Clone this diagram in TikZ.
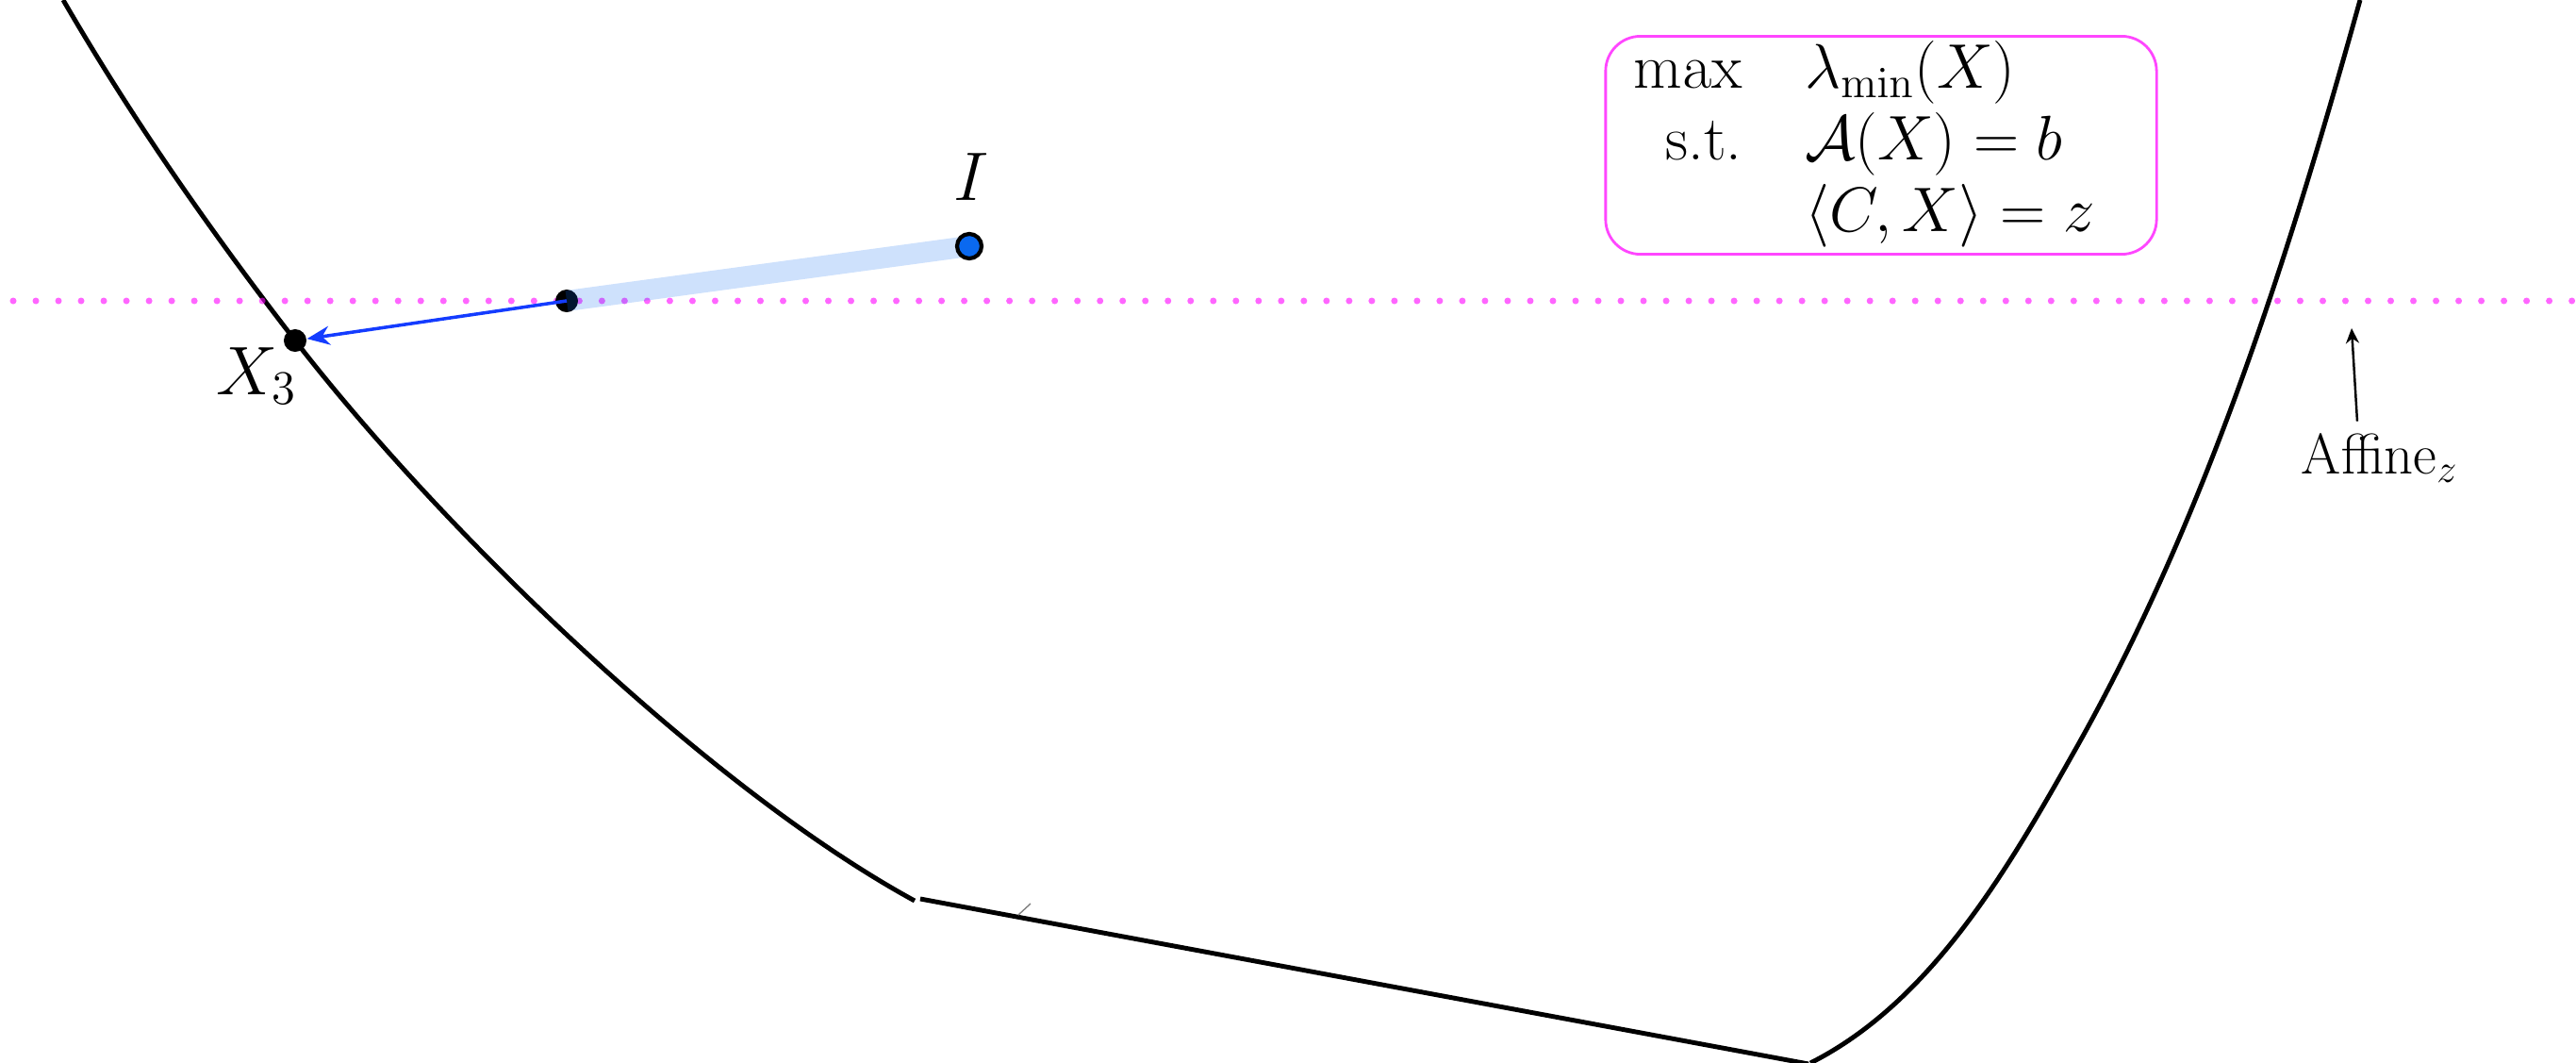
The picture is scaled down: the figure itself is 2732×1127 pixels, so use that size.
\RequirePackage{fix-cm}
\documentclass[tikz,border=0pt]{standalone}
\usepackage{amsmath, amssymb}
\usetikzlibrary{arrows.meta}
\definecolor{ptblue}{RGB}{10,105,240}
\definecolor{stepblue}{RGB}{20,60,255}
\definecolor{boxpink}{RGB}{255,70,255}
\definecolor{slicepink}{RGB}{255,0,255}

\begin{document}
\begin{tikzpicture}[x=0.01cm, y=-0.01cm, font=\fontsize{19}{21.6}\selectfont,
    boundary/.style={line width=1.4pt, line join=round},
    slice/.style={slicepink, opacity=0.6, line width=0.07cm, line cap=round, dash pattern=on 0pt off 0.24cm},
    band/.style={ptblue, opacity=0.2, line width=0.22cm},
    blackdot/.style={circle, fill=black, minimum size=0.24cm, inner sep=0pt},
    centerdot/.style={circle, draw=black, line width=1.2pt, fill=ptblue, minimum size=0.26cm, inner sep=0pt},
    biglabel/.style={font=\fontsize{20.74}{25}\selectfont, anchor=base},
    probbox/.style={draw=boxpink, line width=0.8pt, rounded corners=0.37cm, text width=5.24cm,
        inner xsep=0.3cm, inner ysep=0pt, minimum height=2.31cm, align=left}]

        \useasboundingbox (0,0) rectangle (2732,1127);

        % ---------------- boundary of the region ----------------
        \draw[boundary] (67,0) .. controls (140,126) and (224,246) .. (313,361)
            .. controls (466,559) and (750,835) .. (970,955);
        \draw[boundary] (976,953) -- (1918,1128);
        \draw[boundary] (1920,1127) .. controls (2047,1063) and (2128,924) .. (2198,800)
            .. controls (2338,554) and (2427,273) .. (2503,0);
        \draw[gray, line width=0.4pt] (1080,970) -- (1093,958);

        % ---------------- affine slice ----------------
        \draw[slice] (14,319) -- (2740,319);

        % ---------------- iterates ----------------
        \coordinate (pI) at (1028,261);
        \coordinate (pM) at (601,319);
        \node[blackdot] (mid) at (pM) {};
        \draw[band] (pM) -- (pI);
        \node[centerdot] (I) at (pI) {};
        \node[blackdot] (X3) at (313,361) {};
        \draw[-{Stealth[length=2.4mm, width=2mm]}, stepblue, line width=1pt] (mid.center) -- (X3);

        \node[biglabel] (Ilabel) at (1030,212) {$I$};
        \node[biglabel] (X3label) at (272,418) {$X_3$};

        % ---------------- labels ----------------
        \coordinate (afftip) at (2494,348);
        \node[font=\fontsize{17.28}{20}\selectfont, anchor=base] (aff) at (2524,502) {Affine$_z$};
        \draw[-{Stealth[length=1.6mm, width=1.4mm]}, line width=0.7pt] ([xshift=-0.24cm]aff.north) -- (afftip);

        \node[probbox] (prob) at (1995,154) {$\begin{array}{@{}r@{\quad}l@{}}
            \max & \lambda_{\min}(X)\\
            \text{s.t.} & \mathcal{A}(X) = b\\
             & \langle C, X\rangle = z
            \end{array}$};

    \end{tikzpicture}
\end{document}
